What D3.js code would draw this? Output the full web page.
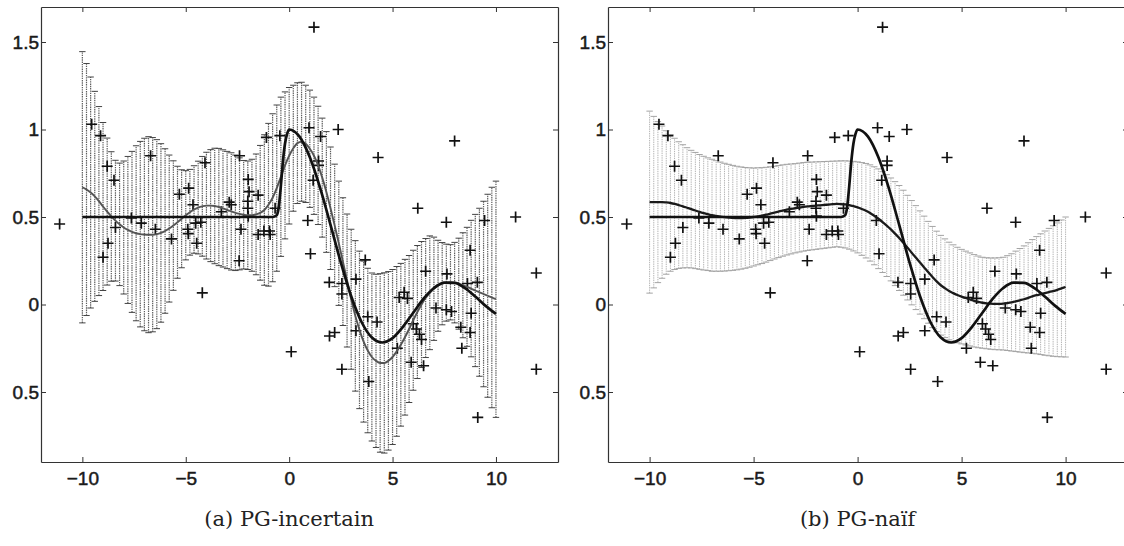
<!DOCTYPE html>
<html>
<head>
<meta charset="utf-8">
<script src="https://cdn.jsdelivr.net/npm/d3@7"></script>
<style>
  body { margin: 0; background: #fff; }
  svg text { font-family: "Liberation Sans", Arial, sans-serif; }
</style>
</head>
<body>
<svg id="chart" width="1124" height="546"></svg>
<script>
// inputs where the error bars sit
const gridX = [-10,-9.8,-9.6,-9.4,-9.2,-9,-8.8,-8.6,-8.4,-8.2,-8,-7.8,-7.6,-7.4,-7.2,-7,-6.8,-6.6,-6.4,-6.2,
  -6,-5.8,-5.6,-5.4,-5.2,-5,-4.8,-4.6,-4.4,-4.2,-4,-3.8,-3.6,-3.4,-3.2,-3,-2.8,-2.6,-2.4,-2.2,
  -2,-1.8,-1.6,-1.4,-1.2,-1,-0.8,-0.6,-0.4,-0.2,0,0.2,0.4,0.6,0.8,1,1.2,1.4,1.6,1.8,
  2,2.2,2.4,2.6,2.8,3,3.2,3.4,3.6,3.8,4,4.2,4.4,4.6,4.8,5,5.2,5.4,5.6,5.8,
  6,6.2,6.4,6.6,6.8,7,7.2,7.4,7.6,7.8,8,8.2,8.4,8.6,8.8,9,9.2,9.4,9.6,9.8,10];

// (a) uncertain-input GP: predicted mean and half bar height
const meanA = [0.670,0.657,0.640,0.618,0.591,0.560,0.531,0.503,0.479,0.458,
  0.440,0.426,0.415,0.407,0.402,0.400,0.399,0.399,0.402,0.409,
  0.420,0.434,0.451,0.470,0.490,0.510,0.527,0.543,0.554,0.561,
  0.565,0.565,0.563,0.557,0.549,0.540,0.532,0.524,0.518,0.513,
  0.510,0.510,0.515,0.524,0.540,0.570,0.610,0.665,0.730,0.795,
  0.850,0.893,0.922,0.930,0.918,0.890,0.850,0.795,0.725,0.643,
  0.550,0.452,0.350,0.245,0.137,0.030,-0.065,-0.145,-0.212,-0.263,
  -0.300,-0.322,-0.334,-0.334,-0.322,-0.300,-0.268,-0.230,-0.187,-0.140,
  -0.090,-0.043,0.000,0.037,0.067,0.090,0.107,0.119,0.125,0.127,
  0.125,0.119,0.110,0.101,0.091,0.080,0.070,0.060,0.050,0.040,0.030];
const spreadA = [0.775,0.720,0.660,0.600,0.540,0.480,0.420,0.370,0.345,0.350,
  0.380,0.420,0.460,0.500,0.530,0.550,0.560,0.555,0.540,0.510,
  0.470,0.420,0.370,0.320,0.280,0.255,0.245,0.250,0.265,0.285,
  0.305,0.320,0.330,0.335,0.335,0.335,0.335,0.330,0.320,0.310,
  0.310,0.320,0.345,0.385,0.430,0.465,0.480,0.475,0.455,0.420,
  0.390,0.360,0.345,0.340,0.335,0.335,0.335,0.338,0.340,0.345,
  0.350,0.350,0.355,0.365,0.380,0.400,0.430,0.450,0.460,0.470,
  0.480,0.495,0.510,0.515,0.510,0.500,0.485,0.465,0.445,0.420,
  0.400,0.380,0.360,0.340,0.325,0.295,0.260,0.235,0.220,0.215,
  0.230,0.260,0.300,0.340,0.390,0.435,0.480,0.530,0.580,0.630,0.675];

// (b) naive GP
const meanB = [0.585,0.585,0.585,0.585,0.583,0.580,0.575,0.568,0.561,0.553,
  0.545,0.537,0.529,0.522,0.516,0.510,0.506,0.502,0.499,0.497,
  0.495,0.494,0.494,0.495,0.497,0.500,0.504,0.508,0.513,0.519,
  0.525,0.531,0.537,0.542,0.546,0.550,0.554,0.558,0.561,0.563,
  0.565,0.567,0.569,0.571,0.573,0.575,0.574,0.572,0.568,0.562,
  0.555,0.546,0.536,0.523,0.507,0.490,0.471,0.451,0.429,0.405,
  0.380,0.353,0.325,0.296,0.268,0.240,0.212,0.184,0.157,0.132,
  0.110,0.093,0.077,0.065,0.054,0.045,0.037,0.029,0.021,0.015,
  0.010,0.007,0.005,0.004,0.004,0.005,0.008,0.012,0.018,0.024,
  0.030,0.038,0.046,0.053,0.059,0.065,0.071,0.077,0.084,0.092,0.100];
const spreadB = [0.520,0.490,0.460,0.435,0.410,0.390,0.375,0.362,0.352,0.343,
  0.336,0.332,0.328,0.325,0.322,0.320,0.316,0.312,0.308,0.304,
  0.300,0.296,0.292,0.288,0.284,0.280,0.277,0.274,0.271,0.268,
  0.265,0.263,0.261,0.259,0.257,0.255,0.254,0.253,0.252,0.251,
  0.250,0.249,0.248,0.247,0.246,0.245,0.247,0.249,0.252,0.256,
  0.260,0.265,0.270,0.275,0.280,0.285,0.288,0.291,0.294,0.297,
  0.300,0.300,0.299,0.298,0.297,0.295,0.293,0.291,0.289,0.287,
  0.285,0.282,0.279,0.276,0.273,0.270,0.268,0.266,0.264,0.262,
  0.260,0.260,0.261,0.262,0.263,0.265,0.271,0.278,0.287,0.296,
  0.305,0.315,0.325,0.335,0.345,0.355,0.364,0.373,0.382,0.391,0.400];

// true function (thick line)
const truthX = [-10,-0.8,-0.6,-0.5,-0.4,-0.3,-0.2,-0.1,0,0.5,1,1.5,2,2.5,3,3.5,4,4.5,5,5.5,6,6.5,7,7.5,8,8.5,9,9.5,10];
const truthY = [0.5,0.5,0.51,0.56,0.68,0.82,0.92,0.975,1.0,0.959,0.841,0.665,0.455,0.239,0.047,-0.100,-0.189,-0.217,-0.192,-0.128,-0.047,0.033,0.094,0.125,0.124,0.094,0.046,-0.008,-0.054];

// noisy training points [x, y]
const samples = [
  [-11.1,0.46],[-9.55,1.03],[-9.12,0.965],[-8.8,0.79],[-8.47,0.71],[-8.4,0.44],[-8.76,0.35],[-9.0,0.27],
  [-7.63,0.495],[-7.15,0.465],[-6.7,0.85],[-6.47,0.43],
  [-5.69,0.375],[-5.31,0.63],[-4.86,0.665],[-4.65,0.57],[-4.9,0.43],[-4.88,0.405],[-4.52,0.465],[-4.47,0.35],
  [-4.27,0.47],[-4.07,0.81],[-4.2,0.067],
  [-3.28,0.53],[-2.9,0.585],[-2.8,0.57],[-2.4,0.85],[-2.42,0.25],[-2.33,0.43],
  [-1.98,0.715],[-1.94,0.645],[-2.0,0.59],[-2.0,0.55],[-1.98,0.505],
  [-1.5,0.625],[-1.5,0.40],[-1.22,0.42],[-0.92,0.40],[-0.95,0.42],
  [-1.1,0.955],[-0.45,0.965],[-0.68,0.55],
  [0.1,-0.27],[0.9,0.48],[1.03,0.29],[0.96,1.01],[1.2,1.585],[1.52,0.96],[2.37,1.0],[1.42,0.82],[1.42,0.795],[1.16,0.71],
  [1.94,0.127],[1.95,-0.18],[2.2,-0.16],[2.55,0.12],[2.55,0.06],[2.55,-0.37],
  [3.23,0.145],[3.23,-0.15],[3.68,0.255],[3.85,-0.44],[3.8,-0.07],[4.25,-0.1],[4.3,0.84],
  [5.23,-0.25],[5.32,0.04],[5.56,0.07],[5.72,0.035],
  [5.9,-0.33],[6.5,-0.35],[6.0,-0.11],[6.15,-0.14],[6.3,-0.17],[6.4,-0.2],
  [6.6,0.19],[6.22,0.55],
  [7.1,-0.02],[7.6,-0.03],[7.85,-0.04],
  [7.63,0.175],[7.6,0.47],[8.0,0.935],
  [8.3,-0.13],[8.75,-0.16],[8.35,-0.25],[8.8,-0.05],[8.75,0.31],
  [8.62,0.12],[9.1,0.127],[9.12,-0.645],[9.45,0.48],[10.95,0.5],
  [11.95,0.18],[11.95,-0.37]
];

const xTicks = [-10, -5, 0, 5, 10];
const xTickLabels = ["\u221210", "\u22125", "0", "5", "10"];
const yTicks = [-0.5, 0, 0.5, 1, 1.5];
const yTickLabels = ["0.5", "0", "0.5", "1", "1.5"];
const captions = ["(a) PG-incertain", "(b) PG-na\u00eff"];

const svg = d3.select("#chart");
const plotTop = 7, plotBottom = 462;

const panels = [
  { left: 41, right: 558, mean: meanA, spread: spreadA, bar: "#5e5e5e", cap: "#444", barWidth: 1.2,
    meanColor: "#555", meanWidth: 1.9, caption: captions[0] },
  { left: 608, right: 1128, mean: meanB, spread: spreadB, bar: "#b4b4b4", cap: "#a4a4a4", barWidth: 1,
    meanColor: "#1a1a1a", meanWidth: 2.3, caption: captions[1] }
];

panels.forEach(p => {
  const x = d3.scaleLinear().domain([-12, 13]).range([p.left, p.right]);
  const y = d3.scaleLinear().domain([-0.9, 1.7]).range([plotBottom, plotTop]);
  const g = svg.append("g");

  // error bars (dotted stems, short caps)
  const bars = g.append("g");
  gridX.forEach((gx, i) => {
    const lo = p.mean[i] - p.spread[i], hi = p.mean[i] + p.spread[i];
    bars.append("line")
      .attr("x1", x(gx)).attr("x2", x(gx))
      .attr("y1", y(lo)).attr("y2", y(hi))
      .attr("stroke", p.bar).attr("stroke-width", p.barWidth)
      .attr("stroke-dasharray", "1.4,0.9");
    [lo, hi].forEach(v => {
      bars.append("line")
        .attr("x1", x(gx) - 3.2).attr("x2", x(gx) + 3.2)
        .attr("y1", y(v)).attr("y2", y(v))
        .attr("stroke", p.cap).attr("stroke-width", 1);
    });
  });

  // data points
  g.append("g").selectAll("path")
    .data(samples)
    .join("path")
      .attr("d", d => `M${x(d[0]) - 5.5},${y(d[1])}h11M${x(d[0])},${y(d[1]) - 5.5}v11`)
      .attr("stroke", "#111").attr("stroke-width", 1.7).attr("fill", "none");

  // predicted mean
  g.append("path")
    .datum(gridX.map((gx, i) => [gx, p.mean[i]]))
    .attr("d", d3.line().x(d => x(d[0])).y(d => y(d[1])).curve(d3.curveMonotoneX))
    .attr("fill", "none").attr("stroke", p.meanColor).attr("stroke-width", p.meanWidth);

  // true function
  g.append("path")
    .datum(truthX.map((tx, i) => [tx, truthY[i]]))
    .attr("d", d3.line().x(d => x(d[0])).y(d => y(d[1])).curve(d3.curveMonotoneX))
    .attr("fill", "none").attr("stroke", "#111").attr("stroke-width", 2.7);

  // axes box with inward ticks
  const styleAxis = sel => {
    sel.select(".domain").attr("stroke", "#333").attr("stroke-width", 1.2);
    sel.selectAll(".tick line").attr("stroke", "#333");
    sel.selectAll(".tick text").attr("fill", "#1a1a1a").attr("font-size", 19)
      .attr("stroke", "#1a1a1a").attr("stroke-width", 0.5);
  };
  g.append("g").attr("transform", `translate(0,${plotBottom})`)
    .call(d3.axisBottom(x).tickValues(xTicks).tickSize(-5).tickSizeOuter(0).tickPadding(10)
      .tickFormat((d, i) => xTickLabels[i]))
    .call(styleAxis);
  g.append("g").attr("transform", `translate(0,${plotTop})`)
    .call(d3.axisTop(x).tickValues(xTicks).tickSize(-5).tickSizeOuter(0).tickFormat(""))
    .call(styleAxis);
  g.append("g").attr("transform", `translate(${p.left},0)`)
    .call(d3.axisLeft(y).tickValues(yTicks).tickSize(-5).tickSizeOuter(0).tickPadding(2)
      .tickFormat((d, i) => yTickLabels[i]))
    .call(styleAxis);
  g.append("g").attr("transform", `translate(${p.right},0)`)
    .call(d3.axisRight(y).tickValues(yTicks).tickSize(-5).tickSizeOuter(0).tickFormat(""))
    .call(styleAxis);

  // caption
  svg.append("text")
    .attr("x", x(0)).attr("y", 526)
    .attr("text-anchor", "middle")
    .style("font-family", "'DejaVu Serif', serif")
    .attr("font-size", 21)
    .attr("fill", "#222")
    .text(p.caption);
});
</script>
</body>
</html>
